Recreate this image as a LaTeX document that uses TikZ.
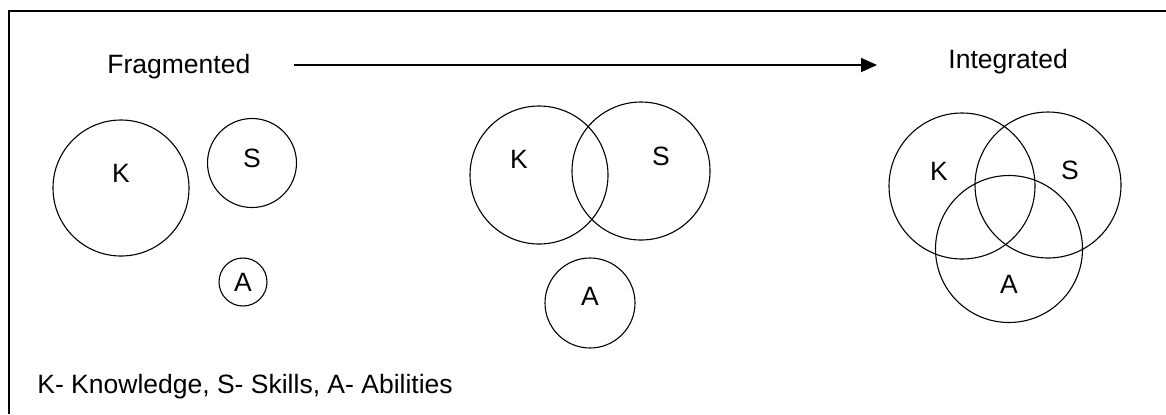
\documentclass[tikz,border=0pt]{standalone}
\usepackage{fontspec}
\setmainfont{Liberation Sans}
\usetikzlibrary{arrows.meta, positioning, calc}

\begin{document}
\begin{tikzpicture}[
    x=0.5pt, y=-0.5pt,
    ring/.style={circle, draw, line width=0.55pt, inner sep=0pt, minimum size=#1},
    letter/.style={inner sep=0pt, font=\fontsize{13.25}{16}\selectfont},
    caption/.style={inner sep=0pt, anchor=base west, font=\fontsize{13.25}{16}\selectfont},
    arrow/.style={-{Triangle[length=8pt, width=7pt]}, line width=0.8pt}
]
\useasboundingbox (0,0) rectangle (1166,414);

% Frame
\draw[line width=0.65pt] (1166,11) -- (9,11) -- (9,414);

% Titles and arrow
\node[caption] (fragmented) at (107,73) {Fragmented};
\node[caption] (integrated) at (948,68) {Integrated};
\coordinate (arrowstart) at (294,65);
\coordinate (arrowend) at (877,65);
\draw[arrow] (arrowstart) -- (arrowend);

% Left group - Fragmented
\node[ring=68pt] (fragK) at (121,188) {};
\node[ring=44.5pt] (fragS) at (252,163) {};
\node[ring=24pt] (fragA) at (243,282) {};
\node[letter] (fragKtxt) at (121,173) {K};
\node[letter] (fragStxt) at (252,158) {S};
\node[letter] (fragAtxt) at (243,282) {A};

% Middle group
\node[ring=69pt] (midK) at (539,175) {};
\node[ring=69pt] (midS) at (641,171) {};
\node[ring=45pt] (midA) at (590,303) {};
\node[letter] (midKtxt) at (519,159) {K};
\node[letter] (midStxt) at (661,156) {S};
\node[letter] (midAtxt) at (590,296) {A};

% Right group - Integrated
\node[ring=73pt] (intK) at (962,186) {};
\node[ring=73pt] (intS) at (1048,185) {};
\node[ring=73.5pt] (intA) at (1009,249) {};
\node[letter] (intKtxt) at (939,171) {K};
\node[letter] (intStxt) at (1070,170) {S};
\node[letter] (intAtxt) at (1009,284) {A};

% Legend
\node[caption] (legend) at (37,393) {K- Knowledge, S- Skills, A- Abilities};

\end{tikzpicture}
\end{document}
